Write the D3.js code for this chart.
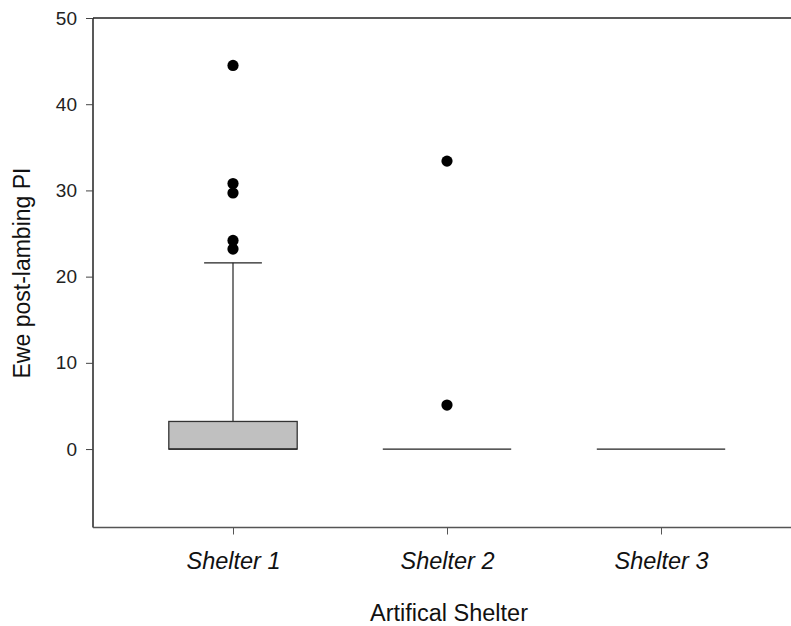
<!DOCTYPE html>
<html>
<head>
<meta charset="utf-8">
<script src="https://cdn.jsdelivr.net/npm/d3@7"></script>
<style>
  html, body { margin: 0; padding: 0; background: #fff; }
  svg { display: block; font-family: "Liberation Sans", Arial, sans-serif; }
</style>
</head>
<body>
<svg id="chart" width="791" height="626"></svg>
<script>
// ---- Data ----
const categories = ["Shelter 1", "Shelter 2", "Shelter 3"];
const q1Values      = [0, 0, 0];
const medianValues  = [0, 0, 0];
const q3Values      = [3.2, 0, 0];
const whiskerLow    = [0, 0, 0];
const whiskerHigh   = [21.6, 0, 0];
const outliers1 = [44.5, 30.8, 29.7, 24.2, 23.2];
const outliers2 = [33.4, 5.1];
const outliers3 = [];
const yTickValues = [0, 10, 20, 30, 40, 50];
const yTitle = "Ewe post-lambing PI";
const xTitle = "Artifical Shelter";

(function () {
const outlierSets = [outliers1, outliers2, outliers3];

const svg = d3.select("#chart");
const mLeft = 93, mTop = 18, mBottom = 527.5, rightEdge = 801;

const x = d3.scalePoint().domain(categories).range([233, 661]);
const step = x.step();
const y = d3.scaleLinear().domain([-9.1, 50]).range([mBottom, mTop]);

const boxW = step * 0.6;
const capW = step * 0.135;

// Frame: top line
svg.append("line")
  .attr("x1", mLeft).attr("x2", rightEdge)
  .attr("y1", y(50)).attr("y2", y(50))
  .attr("stroke", "#222").attr("stroke-width", 1.5);

// Y axis
const yAxis = svg.append("g")
  .attr("transform", `translate(${mLeft},0)`)
  .call(d3.axisLeft(y).tickValues(yTickValues).tickSize(7).tickPadding(9).tickSizeOuter(0));
yAxis.select(".domain").attr("stroke", "#222").attr("stroke-width", 1.5)
  .attr("d", `M0,${mTop}V${mBottom}`);
yAxis.selectAll(".tick line").attr("stroke", "#444").attr("stroke-width", 1);
yAxis.selectAll(".tick text").attr("font-size", 19).attr("fill", "#222")
  .attr("font-family", "'Liberation Sans', Arial, sans-serif");

// X axis
const xAxis = svg.append("g")
  .attr("transform", `translate(0,${mBottom})`)
  .call(d3.axisBottom(x).tickSize(7).tickPadding(0).tickSizeOuter(0));
xAxis.select(".domain").attr("stroke", "#555").attr("stroke-width", 1.5)
  .attr("d", `M${mLeft},0H${rightEdge}`);
xAxis.selectAll(".tick line").attr("stroke", "#555").attr("stroke-width", 1);
xAxis.selectAll(".tick text").attr("font-size", 23.5).attr("fill", "#111")
  .attr("font-style", "italic").attr("dy", null).attr("y", 41)
  .attr("font-family", "'Liberation Sans', Arial, sans-serif");

// Boxes
categories.forEach((c, i) => {
  const cx = x(c);
  const g = svg.append("g");
  if (whiskerHigh[i] > q3Values[i]) {
    g.append("line").attr("x1", cx).attr("x2", cx)
      .attr("y1", y(q3Values[i])).attr("y2", y(whiskerHigh[i]))
      .attr("stroke", "#222").attr("stroke-width", 1.2);
    g.append("line").attr("x1", cx - capW).attr("x2", cx + capW)
      .attr("y1", y(whiskerHigh[i])).attr("y2", y(whiskerHigh[i]))
      .attr("stroke", "#222").attr("stroke-width", 1.2);
  }
  if (q3Values[i] > q1Values[i]) {
    g.append("rect")
      .attr("x", cx - boxW / 2).attr("width", boxW)
      .attr("y", y(q3Values[i])).attr("height", y(q1Values[i]) - y(q3Values[i]))
      .attr("fill", "#c0c0c0").attr("stroke", "#333").attr("stroke-width", 1.3);
  }
  g.append("line").attr("x1", cx - boxW / 2).attr("x2", cx + boxW / 2)
    .attr("y1", y(medianValues[i])).attr("y2", y(medianValues[i]))
    .attr("stroke", "#222").attr("stroke-width", 1.3);
  g.selectAll("circle").data(outlierSets[i]).join("circle")
    .attr("cx", cx).attr("cy", d => y(d)).attr("r", 5.6).attr("fill", "#000");
});

// Axis titles
svg.append("text")
  .attr("transform", `translate(30,273) rotate(-90)`)
  .attr("text-anchor", "middle").attr("font-size", 23).attr("fill", "#111")
  .text(yTitle);
svg.append("text")
  .attr("x", 449).attr("y", 621)
  .attr("text-anchor", "middle").attr("font-size", 23.5).attr("fill", "#111")
  .text(xTitle);
})();
</script>
</body>
</html>
